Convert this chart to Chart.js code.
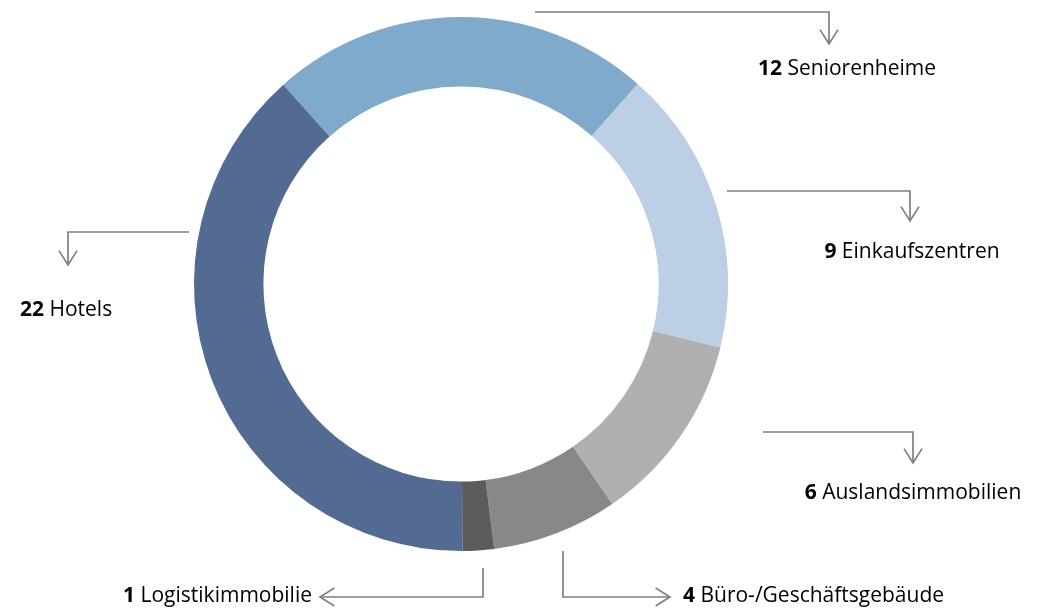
<!DOCTYPE html>
<html lang="de">
<head>
    <meta charset="UTF-8">
    <title>Immobilien nach Nutzungsart</title>
    <script src="https://cdn.jsdelivr.net/npm/chart.js"></script>
    <style>
        html, body { margin: 0; padding: 0; background: #fff; }
        #wrap { width: 1045px; height: 609px; position: relative; }
    </style>
</head>
<body>
    <div id="wrap">
        <canvas id="donut"></canvas>
    </div>
    <script>
        const categories = ['Seniorenheime', 'Einkaufszentren', 'Auslandsimmobilien', 'Büro-/Geschäftsgebäude', 'Logistikimmobilie', 'Hotels'];
        // number of properties (shown in the labels)
        const counts = [12, 9, 6, 4, 1, 22];
        // ring share in % (the ring is not drawn by count)
        const shares = [23.1, 17.3, 11.6, 7.6, 1.9, 38.5];
        const colors = ['#7faacc', '#bccfe5', '#b0b0b0', '#888888', '#5b5b5b', '#536a93'];

        // callout lines + label spots (pixel layout for the labels only)
        const callouts = [
            { path: [[535, 12], [829, 12], [829, 44]], head: 'down', text: [847, 69], align: 'center' },
            { path: [[727, 191], [910, 191], [910, 221]], head: 'down', text: [912, 252], align: 'center' },
            { path: [[763, 432], [913, 432], [913, 463]], head: 'down', text: [913, 493], align: 'center' },
            { path: [[563, 551], [563, 597], [670, 597]], head: 'right', text: [683, 596], align: 'left' },
            { path: [[483, 568], [483, 597], [320, 597]], head: 'left', text: [312, 596], align: 'right' },
            { path: [[189, 232], [68, 232], [68, 265]], head: 'down', text: [20, 310], align: 'left' }
        ];

        const calloutPlugin = {
            id: 'callouts',
            afterDraw(chart) {
                const ctx = chart.ctx;
                ctx.save();
                ctx.strokeStyle = '#808080';
                ctx.lineWidth = 1.7;
                callouts.forEach((c, i) => {
                    ctx.beginPath();
                    c.path.forEach((p, j) => j ? ctx.lineTo(p[0], p[1]) : ctx.moveTo(p[0], p[1]));
                    ctx.stroke();
                    const [ex, ey] = c.path[c.path.length - 1];
                    const s = 9;
                    ctx.beginPath();
                    if (c.head === 'down') { ctx.moveTo(ex - s, ey - s * 1.6); ctx.lineTo(ex, ey); ctx.lineTo(ex + s, ey - s * 1.6); }
                    if (c.head === 'right') { ctx.moveTo(ex - s * 1.6, ey - s); ctx.lineTo(ex, ey); ctx.lineTo(ex - s * 1.6, ey + s); }
                    if (c.head === 'left') { ctx.moveTo(ex + s * 1.6, ey - s); ctx.lineTo(ex, ey); ctx.lineTo(ex + s * 1.6, ey + s); }
                    ctx.stroke();

                    // "12 Seniorenheime": bold number, regular name
                    const num = String(counts[i]);
                    const name = ' ' + chart.data.labels[i];
                    ctx.textBaseline = 'middle';
                    ctx.fillStyle = '#000';
                    ctx.font = 'bold 21px "Open Sans", sans-serif';
                    const wNum = ctx.measureText(num).width;
                    ctx.font = '21px "Open Sans", sans-serif';
                    const wName = ctx.measureText(name).width;
                    let x = c.text[0];
                    if (c.align === 'center') x -= (wNum + wName) / 2;
                    if (c.align === 'right') x -= (wNum + wName);
                    ctx.textAlign = 'left';
                    ctx.font = 'bold 21px "Open Sans", sans-serif';
                    ctx.fillText(num, x, c.text[1]);
                    ctx.font = '21px "Open Sans", sans-serif';
                    ctx.fillText(name, x + wNum, c.text[1]);
                });
                ctx.restore();
            }
        };

        new Chart(document.getElementById('donut'), {
            type: 'doughnut',
            data: {
                labels: categories,
                datasets: [{
                    data: shares,
                    backgroundColor: colors,
                    borderWidth: 0
                }]
            },
            options: {
                responsive: true,
                maintainAspectRatio: false,
                animation: false,
                cutout: '74%',
                rotation: -41.7,
                layout: { padding: { left: 194, right: 317, top: 17, bottom: 58 } },
                plugins: {
                    legend: { display: false },
                    tooltip: { enabled: false }
                }
            },
            plugins: [calloutPlugin]
        });
    </script>
</body>
</html>
